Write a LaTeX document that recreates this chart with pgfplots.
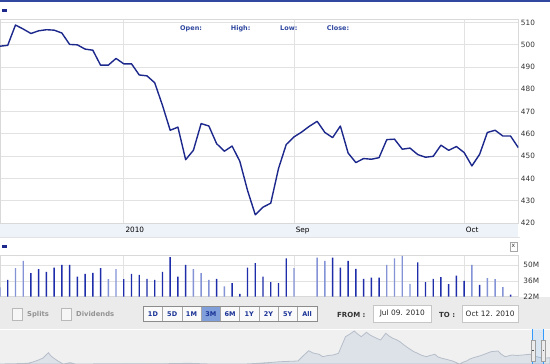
\documentclass[border=0pt]{standalone}
\usepackage{pgfplots}
\pgfplotsset{compat=1.18}
\usepackage{fontspec}
\setmainfont{DejaVu Sans}
\definecolor{navy}{RGB}{28,40,140}
\definecolor{darkbar}{RGB}{30,45,170}
\definecolor{lightbar}{RGB}{132,146,214}
\definecolor{gridc}{RGB}{226,226,226}
\definecolor{band}{RGB}{238,242,249}
\definecolor{hdrblue}{RGB}{48,72,160}
\definecolor{ctrlbg}{RGB}{235,235,235}
\definecolor{navbg}{RGB}{240,240,240}
\definecolor{navfill}{RGB}{221,226,232}
\definecolor{navline}{RGB}{182,190,202}
\definecolor{btnblue}{RGB}{128,158,218}
\definecolor{btntext}{RGB}{25,50,150}
\definecolor{txtgray}{RGB}{51,51,51}
\definecolor{handle}{RGB}{51,153,255}
\begin{document}
\begin{tikzpicture}[x=1pt,y=1pt]
\useasboundingbox (0,0) rectangle (550,364);
\fill[white] (0,0) rectangle (550,364);
% header
\fill[hdrblue] (0,362) rectangle (550,364);
\fill[navy] (1.7,352) rectangle (7.3,354.7);
% date band
\fill[band] (0,127.3) rectangle (518.3,141);
% volume panel
\draw[gridc] (0,126.3) -- (520,126.3);
\fill[navy] (1.7,116.3) rectangle (7.3,119.3);
\draw[gray!70,fill=white] (510,113) rectangle (516.7,122);
\node[inner sep=0pt,font=\fontsize{6}{6}\selectfont,text=txtgray] at (513.35,117.7) {x};
% control bar
\fill[ctrlbg] (0,35) rectangle (550,67);
\fill[navbg] (0,0) rectangle (550,35);
\draw[white,line width=0.8pt] (0,35) -- (550,35);
% checkboxes
\draw[gray!55,fill=white!93!gray] (12,44) rectangle (21.7,55.7);
\node[anchor=west,inner sep=0pt,font=\bfseries\fontsize{6.8}{7}\selectfont,text=gray!85] at (27,49.7) {Splits};
\draw[gray!55,fill=white!93!gray] (61,44) rectangle (70.7,55.7);
\node[anchor=west,inner sep=0pt,font=\bfseries\fontsize{6.8}{7}\selectfont,text=gray!85] at (76,49.7) {Dividends};
% buttons
\foreach \lab [count=\i from 0] in {1D,5D,1M,3M,6M,1Y,2Y,5Y,All}{
  \pgfmathsetmacro{\xa}{143.3+19.27*\i}
  \pgfmathsetmacro{\xb}{143.3+19.27*(\i+1)}
  \ifnum\i=3
    \draw[gray!70,fill=btnblue] (\xa,43) rectangle (\xb,58);
  \else
    \draw[gray!70,fill=white!96!gray] (\xa,43) rectangle (\xb,58);
  \fi
  \node[inner sep=0pt,font=\bfseries\fontsize{6.5}{7}\selectfont,text=btntext] at ({(\xa+\xb)/2},50.3) {\lab};
}
\draw[gray!90] (143.3,43) rectangle (316.7,58);
\node[anchor=west,inner sep=0pt,font=\bfseries\fontsize{7}{7}\selectfont,text=txtgray] at (337,49.5) {FROM :};
\draw[gray!45,fill=white] (373.3,41.7) rectangle (431.3,59);
\node[inner sep=0pt,font=\fontsize{7.4}{8}\selectfont,text=black!85] at (402.3,50.1) {Jul 09. 2010};
\node[anchor=west,inner sep=0pt,font=\bfseries\fontsize{7}{7}\selectfont,text=txtgray] at (439,49.5) {TO :};
\draw[gray!45,fill=white] (462,41.7) rectangle (518.3,59);
\node[inner sep=0pt,font=\fontsize{7.4}{8}\selectfont,text=black!85] at (490.15,50.1) {Oct 12. 2010};

% main price axis
\begin{axis}[at={(0pt,141pt)},anchor=south west,scale only axis,
  width=518.3pt,height=204pt,xmin=0,xmax=67,ymin=420,ymax=511.5,
  axis line style={draw=gray!30},
  xtick={16,38,60},xticklabels={2010,Sep,Oct},
  ytick={420,430,...,510},yticklabel pos=right,
  major tick length=0pt,
  xmajorgrids,ymajorgrids,grid style={draw=gridc,line width=0.8pt},
  /pgf/number format/assume math mode=true,
  ticklabel style={font=\fontsize{7.3}{8}\selectfont,text=txtgray},
  yticklabel style={anchor=west,inner sep=0pt,xshift=2.5pt},
  xticklabel style={anchor=north west,inner sep=0pt,xshift=1.6pt,yshift=-3.8pt,text=black},
  clip=true]
\addplot[navy,line width=1.4pt,line join=round] coordinates {
(0,499.3)(1,499.7)(2,508.8)(3,507)(4,505)(5,506.2)(6,506.7)(7,506.5)(8,505.2)(9,500.1)
(10,499.9)(11,498)(12,497.5)(13,490.8)(14,490.8)(15,493.8)(16,491.4)(17,491.4)(18,486.4)(19,486)
(20,482.9)(21,472.8)(22,461.6)(23,463)(24,448.4)(25,452.6)(26,464.6)(27,463.5)(28,455.6)(29,452.2)
(30,454.5)(31,447.7)(32,434.6)(33,423.7)(34,427.1)(35,428.9)(36,444.4)(37,455.2)(38,458.6)(39,460.8)
(40,463.4)(41,465.6)(42,460.6)(43,458.3)(44,463.5)(45,451.4)(46,447.1)(47,448.9)(48,448.6)(49,449.3)
(50,457.4)(51,457.6)(52,453.1)(53,453.6)(54,450.7)(55,449.5)(56,449.9)(57,454.9)(58,452.6)(59,454.3)
(60,451.6)(61,445.6)(62,450.8)(63,460.6)(64,461.6)(65,459)(66,459)(67,453.8)};
\end{axis}
\node[anchor=west,inner sep=0pt,font=\bfseries\fontsize{6.5}{7}\selectfont,text=hdrblue] at (180,335.7) {Open:};
\node[anchor=west,inner sep=0pt,font=\bfseries\fontsize{6.5}{7}\selectfont,text=hdrblue] at (230.7,335.7) {High:};
\node[anchor=west,inner sep=0pt,font=\bfseries\fontsize{6.5}{7}\selectfont,text=hdrblue] at (280,335.7) {Low:};
\node[anchor=west,inner sep=0pt,font=\bfseries\fontsize{6.5}{7}\selectfont,text=hdrblue] at (326.7,335.7) {Close:};

% volume axis
\begin{axis}[at={(0pt,67.3pt)},anchor=south west,scale only axis,
  width=518.3pt,height=41.7pt,xmin=0,xmax=67,ymin=22,ymax=58.9,
  axis line style={draw=gray!30},
  xtick={16,38,60},xticklabels={},
  ytick={22,36,50},yticklabels={22M,36M,50M},yticklabel pos=right,
  major tick length=0pt,
  xmajorgrids,ymajorgrids,grid style={draw=gridc,line width=0.7pt},
  ticklabel style={font=\fontsize{7.3}{8}\selectfont,text=txtgray},
  yticklabel style={anchor=west,inner sep=0pt,xshift=5pt},
  ybar,bar width=1.4pt,bar shift=0pt,
  clip=true]
\addplot[draw=none,fill=darkbar] coordinates {
(1,36.9)(4,42.8)(5,46.3)(6,43.9)(7,47.7)(8,50.1)(9,50.1)(10,39.8)(11,42.2)(12,43.1)(13,47.2)
(16,37.5)(17,42.2)(18,41.3)(19,37.8)(20,36.9)(21,43.9)(22,57.1)(23,39.8)(24,50.1)
(28,37.8)(30,34.0)(31,24.6)(32,47.7)(33,51.6)(34,39.8)(35,34.9)(36,34.0)(37,55.9)
(43,56.5)(44,47.7)(45,53.6)(46,46.6)(47,37.8)(48,38.9)(49,38.9)
(54,52.4)(55,34.9)(56,37.8)(57,39.3)(58,33.1)(59,40.7)(60,36.0)(62,32.5)(66,23.8)};
\addplot[draw=none,fill=lightbar] coordinates {
(0,30.2)(2,47.2)(3,53.6)(14,37.5)(15,46.3)(25,46.3)(26,42.8)(27,36.9)(29,31.1)(38,47.2)
(41,56.5)(42,53.6)(50,50.1)(51,55.9)(52,58.2)(53,33.4)(61,50.1)(63,38.4)(64,37.5)(65,30.5)};
\end{axis}

% navigator
\begin{axis}[at={(0pt,0pt)},anchor=south west,scale only axis,
  width=550pt,height=35pt,xmin=0,xmax=550,ymin=0,ymax=35,hide axis,clip=true]
\addplot[fill=navfill,draw=navline,line width=0.8pt] coordinates {
(0,0)(15,0.3)(28,0.7)(33,2)(38.6,4)(43,6)(48.4,11.3)(50.5,8.5)(52.6,6.7)(55,5)(57.9,3)(63.1,0)(70.2,1.3)(75.4,0)
(130,0.3)(160,0.2)(189,0.7)(210,0)(245.5,0)(260,0.8)(270,1.5)(280.6,2.3)(298,3)(303,8)(308.7,13.3)(313,11)(319.2,9.7)
(322.7,7.3)(328,8.5)(333.2,9)(338.5,10.7)(342,19)(345.5,27.3)(350,30)(354.2,33)(357,30.5)(361.3,27.3)(366.5,31.7)
(370,29)(375.3,26.3)(380.6,24)(385.8,30.7)(389,28)(392.8,25.7)(396,24.5)(399.9,22.3)(404,19)(408.6,15.7)(413.9,12.3)
(417,11)(420.9,9)(426.2,7.3)(430,8.5)(434.9,9.7)(438,7)(442,5.7)(447,4.5)(452.5,3)(459.5,0)(463,1.8)(466.5,3)
(470,5)(473.5,6.3)(480.5,8.3)(485,10)(491,12.3)(498.1,13)(501,10)(505.1,7.3)(512.1,9)(517,8.5)(522.6,9)(529.6,9.7)
(533,8.5)(536.7,7.3)(540,6.5)(543.7,5.7)(550,6.3)} \closedcycle;
\end{axis}
\fill[handle,opacity=0.12] (532.7,0) rectangle (543.3,35);
\draw[handle,line width=0.8pt] (532.7,0) -- (532.7,35);
\draw[handle,line width=0.8pt] (543.3,0) -- (543.3,35);
\draw[gray!75,fill=gray!15] (530.7,2.3) rectangle (535,24);
\draw[gray!75,fill=gray!15] (541.3,2.3) rectangle (545.6,24);
\fill[black!70] (532.2,12.5) rectangle (533.5,14);
\fill[black!70] (542.8,12.5) rectangle (544.1,14);
\end{tikzpicture}
\end{document}
